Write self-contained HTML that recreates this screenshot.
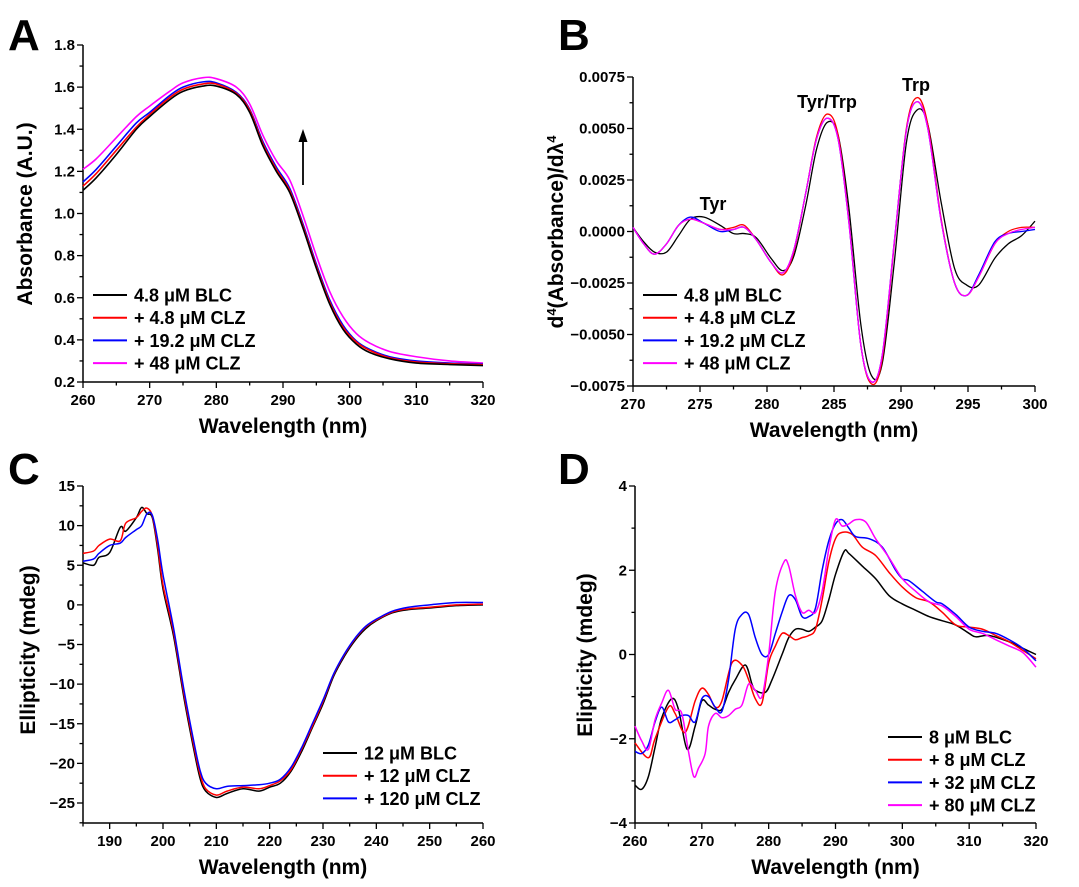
<!DOCTYPE html>
<html><head><meta charset="utf-8">
<style>
body{margin:0;background:#fff;}
svg{display:block;font-family:"Liberation Sans",Arial,sans-serif;font-weight:bold;}
</style></head>
<body>
<svg id="fig" width="1079" height="887" viewBox="0 0 1079 887" xmlns="http://www.w3.org/2000/svg"></svg>
<script>
// ---------- Panel A data ----------
const aX = [260,262,265,268,270,273,275,278,280,283,285,287,289,291,293,295,297,299,301,303,306,310,315,320];
const aBlack = [1.11,1.17,1.28,1.40,1.46,1.54,1.58,1.605,1.605,1.565,1.48,1.32,1.20,1.10,0.93,0.74,0.57,0.45,0.38,0.34,0.31,0.29,0.283,0.278];
const aRed   = [1.13,1.19,1.30,1.41,1.47,1.55,1.59,1.615,1.615,1.57,1.49,1.33,1.21,1.11,0.94,0.75,0.58,0.46,0.39,0.35,0.315,0.295,0.287,0.282];
const aBlue  = [1.15,1.21,1.32,1.43,1.48,1.56,1.60,1.625,1.62,1.575,1.495,1.34,1.22,1.12,0.95,0.76,0.59,0.47,0.395,0.355,0.32,0.30,0.29,0.285];
const aMag   = [1.21,1.26,1.36,1.46,1.51,1.58,1.62,1.645,1.64,1.60,1.52,1.37,1.25,1.16,0.99,0.80,0.63,0.51,0.43,0.385,0.345,0.32,0.30,0.29];
// ---------- Panel B data ----------
const bX = [270,270.8,271.6,272.5,273.4,274.3,275.3,276.5,277.5,278.3,279.2,280.3,281.2,282,282.9,283.7,284.5,285.3,286.1,287,287.8,288.6,289.5,290.4,291.2,292,293,294,294.9,295.8,297,298,299,300];
const bBlack = [0.0002,-0.0005,-0.0010,-0.0010,-0.0002,0.0006,0.0007,0.0003,-0.0001,-0.0001,-0.0003,-0.0013,-0.0019,-0.0012,0.0013,0.0040,0.0053,0.0047,0.0012,-0.0045,-0.0070,-0.0064,-0.0015,0.0043,0.0059,0.0052,0.0014,-0.0018,-0.0026,-0.0026,-0.0013,-0.0006,-0.0002,0.0005];
const bRed   = [0.0002,-0.0006,-0.0011,-0.0006,0.0003,0.0006,0.0004,0.0001,0.0002,0.0003,-0.0004,-0.0015,-0.0021,-0.0010,0.0019,0.0046,0.0057,0.0047,0.0006,-0.0055,-0.0074,-0.0062,-0.0006,0.0050,0.0065,0.0052,0.0006,-0.0025,-0.0031,-0.0022,-0.0006,0.0000,0.0002,0.0002];
const bBlue  = [0.0002,-0.0006,-0.0011,-0.0006,0.0003,0.0007,0.0004,0.0000,0.0001,0.0002,-0.0004,-0.0015,-0.0020,-0.0009,0.0019,0.0045,0.0055,0.0045,0.0005,-0.0055,-0.0073,-0.0060,-0.0005,0.0049,0.0063,0.0050,0.0005,-0.0025,-0.0031,-0.0021,-0.0005,-0.0001,0.0000,0.0001];
const bMag   = [0.0002,-0.0006,-0.0011,-0.0006,0.0003,0.0006,0.0004,0.0001,0.0001,0.0002,-0.0004,-0.0015,-0.0020,-0.0009,0.0019,0.0045,0.0055,0.0045,0.0005,-0.0055,-0.0073,-0.0060,-0.0005,0.0049,0.0063,0.0050,0.0005,-0.0025,-0.0031,-0.0022,-0.0006,-0.0001,0.0001,0.0002];
// ---------- Panel C data ----------
const cX = [185,187,188,190,192,193,195,196,197,198,199,200,202,204,206,207,208,210,212,215,218,220,222,224,226,228,230,232,234,236,238,240,243,246,250,255,260];
const cBlack = [5.3,5.0,6.0,6.6,9.8,9.3,11,12.3,11.5,11,7,2,-4,-12,-19,-22,-23.5,-24.3,-23.8,-23.2,-23.5,-23,-22.5,-21,-18.5,-15.5,-12.5,-9,-6.5,-4.5,-3,-2,-1,-0.6,-0.4,-0.1,0];
const cRed   = [6.5,6.8,7.5,8.3,8.1,10.3,11,11.8,12.2,11.2,7.5,2.5,-3.5,-11.5,-18.5,-21.5,-23.2,-24,-23.5,-23,-23.2,-22.8,-22.2,-20.8,-18.2,-15.3,-12.2,-8.8,-6.3,-4.3,-2.8,-1.9,-0.9,-0.5,-0.3,0,0.1];
const cBlue  = [5.5,5.8,6.5,7.5,7.8,8.5,9.5,10,11.5,11.3,8.2,3.8,-3,-11,-18,-21,-22.5,-23.2,-22.9,-22.8,-22.7,-22.5,-22,-20.5,-18,-15,-12,-8.7,-6.2,-4.2,-2.7,-1.8,-0.8,-0.3,0,0.3,0.3];
// ---------- Panel D data ----------
const dXk = [260,261,262,263,264,265.5,266.5,267.8,269,270,271,272,273,274,275,276.5,277.5,278,279.5,280.5,282,283,284,285,286,287,288,289,290,291.3,292,294,296,298,300,302,304,306,308,310,311,313,316,318,320];
const dBlack = [-3.1,-3.2,-2.9,-2.2,-1.5,-1.05,-1.3,-2.25,-1.7,-1.1,-1.2,-1.3,-1.3,-0.9,-0.6,-0.25,-0.7,-0.85,-0.9,-0.6,0.0,0.4,0.6,0.6,0.55,0.65,0.8,1.3,1.9,2.45,2.4,2.1,1.8,1.4,1.2,1.05,0.9,0.8,0.7,0.5,0.42,0.45,0.3,0.15,0.0];
const dXr = [260,262,263,265,266,267.5,269,270,271,272,273,274.5,276,277,278,279,280,281,282,283,284,285,286,287,288,289,290,291,292.5,294,296,298,300,302,304,306,308,310,312,314,316,318,320];
const dRed = [-2.1,-2.45,-2.0,-1.25,-1.4,-1.85,-1.1,-0.8,-0.95,-1.25,-1.1,-0.2,-0.25,-0.6,-1.05,-1.15,-0.2,0.2,0.5,0.45,0.35,0.4,0.45,0.6,1.3,2.2,2.75,2.9,2.85,2.55,2.35,1.95,1.6,1.35,1.25,1.0,0.7,0.65,0.6,0.45,0.3,0.1,-0.1];
const dXb = [260,261,262,263,264,265,266,267,268,269,270,271,272,273,274,275,276,277,278,279,280,281,282,283,284,285,286,287,288,289,290,291,292,293,295,297,299,300,301,303,305,306,308,310,312,314,316,318,320];
const dBlue = [-2.3,-2.35,-2.15,-1.6,-1.25,-1.6,-1.55,-1.45,-1.45,-1.6,-1.05,-1.0,-1.25,-1.35,-0.6,0.6,0.95,0.95,0.4,0.0,0.0,0.5,1.0,1.4,1.3,0.9,0.9,1.1,2.0,2.7,3.1,3.2,3.0,2.8,2.75,2.55,2.0,1.8,1.75,1.5,1.25,1.2,0.95,0.65,0.55,0.5,0.35,0.15,-0.15];
const dXm = [260,261,262,263,264,265,266,267,268,268.8,269.5,270.5,271,272,273,274,275,276,277,278,279,280,281,282.3,283,284,285,286,287,288,289,290,291,292,293,294.5,296,298,300,302,304,306,308,310,312,314,316,318,320];
const dMag = [-1.7,-2.05,-2.25,-1.55,-1.15,-0.85,-1.3,-1.4,-2.3,-2.9,-2.7,-2.35,-1.7,-1.4,-1.5,-1.45,-1.3,-1.2,-0.7,-0.85,-1.0,0.0,1.5,2.2,2.1,1.4,1.0,1.05,1.0,1.5,2.5,3.2,3.05,3.1,3.2,3.15,2.75,2.3,1.8,1.5,1.25,1.15,0.9,0.6,0.5,0.35,0.2,0.05,-0.3];

const NS="http://www.w3.org/2000/svg";
const svg=document.getElementById('fig');
function mk(tag,attrs,parent){const e=document.createElementNS(NS,tag);for(const k in attrs)e.setAttribute(k,attrs[k]);(parent||svg).appendChild(e);return e;}
function scale(d0,d1,r0,r1){return v=>r0+(v-d0)*(r1-r0)/(d1-d0);}
function smoothPath(xs,ys,sx,sy){
  const p=xs.map((x,i)=>[sx(x),sy(ys[i])]);
  let d='M'+p[0][0].toFixed(2)+','+p[0][1].toFixed(2);
  for(let i=0;i<p.length-1;i++){
    const p0=p[i-1]||p[i],p1=p[i],p2=p[i+1],p3=p[i+2]||p2;
    const c1=[p1[0]+(p2[0]-p0[0])/6,p1[1]+(p2[1]-p0[1])/6];
    const c2=[p2[0]-(p3[0]-p1[0])/6,p2[1]-(p3[1]-p1[1])/6];
    d+='C'+c1[0].toFixed(2)+','+c1[1].toFixed(2)+' '+c2[0].toFixed(2)+','+c2[1].toFixed(2)+' '+p2[0].toFixed(2)+','+p2[1].toFixed(2);
  }
  return d;
}
function axes(g,o){
  const sx=scale(o.x0,o.x1,o.L,o.R), sy=scale(o.y0,o.y1,o.B,o.T);
  const AB=o.axB||o.B;
  const ax=mk('g',{},g);
  
  
  mk('line',{x1:o.L,y1:o.T,x2:o.L,y2:AB,stroke:'#000','stroke-width':1.5},ax);
  mk('line',{x1:o.L,y1:AB,x2:o.R,y2:AB,stroke:'#000','stroke-width':1.5},ax);
  for(let v=o.xm0;v<=o.x1+1e-9;v+=o.xminor){
    const major=Math.abs(((v-o.xt0)/o.xmajor)-Math.round((v-o.xt0)/o.xmajor))<1e-6;
    mk('line',{x1:sx(v),y1:AB,x2:sx(v),y2:AB+(major?6:3.5),stroke:'#000','stroke-width':1.3},ax);
    if(major){const t=mk('text',{x:sx(v),y:AB+23,'text-anchor':'middle','font-size':15},ax);t.textContent=o.xfmt(v);
      
      }
  }
  const n=Math.round((o.y1-o.ym0)/o.yminor);
  for(let i=0;i<=n;i++){const v=o.ym0+i*o.yminor;
    if(sy(v)>AB+0.5)continue;
    const major=Math.abs(((v-o.yt0)/o.ymajor)-Math.round((v-o.yt0)/o.ymajor))<1e-6;
    mk('line',{x1:o.L,y1:sy(v),x2:o.L-(major?6:3.5),y2:sy(v),stroke:'#000','stroke-width':1.3},ax);
    if(major){const t=mk('text',{x:o.L-8,y:sy(v)+5,'text-anchor':'end','font-size':15},ax);t.textContent=o.yfmt(v);
      
      }
  }
  const xt=mk('text',{x:(o.L+o.R)/2,y:AB+51,'text-anchor':'middle','font-size':21},g);
  xt.textContent='Wavelength (nm)';
  
  
  return [sx,sy];
}
function series(g,xs,ys,sx,sy,color,name,w){
  const p=mk('path',{d:smoothPath(xs,ys,sx,sy),fill:'none',stroke:color,'stroke-width':w||1.6,'stroke-linejoin':'round'},g);
  
  
}
function legend(g,x,y0,dy,items){
  const lg=mk('g',{},g);
  
  
  items.forEach((it,i)=>{
    const y=y0+i*dy;
    const e=mk('g',{},lg);
    
    
    mk('line',{x1:x,y1:y,x2:x+34,y2:y,stroke:it[1],'stroke-width':2},e);
    const t=mk('text',{x:x+41,y:y+6.5,'font-size':18},e);t.textContent=it[0];
  });
}
function panelLabel(txt,x,y,name){const t=mk('text',{x:x,y:y,'font-size':44},svg);t.textContent=txt;
  
  }
function ytitle(g,x,y,txt){const t=mk('text',{x:x,y:y,'text-anchor':'middle','font-size':21,transform:`rotate(-90 ${x} ${y})`},g);t.textContent=txt;
  
  return t;}

// ===== Panel A =====
{
const g=mk('g',{});


panelLabel('A',8,50,'panel-label-a');
const [sx,sy]=axes(g,{x0:260,x1:320,L:83,R:483,y0:0.2,y1:1.8,B:382,T:45,xm0:260,xt0:260,xminor:5,xmajor:10,ym0:0.2,yt0:0.2,yminor:0.1,ymajor:0.2,xfmt:v=>Math.round(v),yfmt:v=>v.toFixed(1)});
ytitle(g,32,214,'Absorbance (A.U.)');
series(g,aX,aMag,sx,sy,'#ff00ff','series-48uM-clz');
series(g,aX,aBlue,sx,sy,'#0000ff','series-19-2uM-clz');
series(g,aX,aRed,sx,sy,'#ff0000','series-4-8uM-clz');
series(g,aX,aBlack,sx,sy,'#000000','series-4-8uM-blc');
const ar=mk('g',{},g);


mk('line',{x1:303,y1:185,x2:303,y2:138,stroke:'#000','stroke-width':1.8},ar);
mk('polygon',{points:'303,129 298.5,142 307.5,142',fill:'#000'},ar);
legend(g,93,295,22.7,[['4.8 μM BLC','#000'],['+ 4.8 μM CLZ','#ff0000'],['+ 19.2 μM CLZ','#0000ff'],['+ 48 μM CLZ','#ff00ff']]);
}
// ===== Panel B =====
{
const g=mk('g',{});


panelLabel('B',558,50,'panel-label-b');
const [sx,sy]=axes(g,{x0:270,x1:300,L:633,R:1035,y0:-0.0075,y1:0.0075,B:386,T:77,xm0:270,xt0:270,xminor:2.5,xmajor:5,ym0:-0.0075,yt0:-0.0075,yminor:0.00125,ymajor:0.0025,xfmt:v=>Math.round(v),yfmt:v=>(v<-1e-9?'\u22120':'0')+Math.abs(v).toFixed(4).slice(1)});
const t=ytitle(g,563,232,'');
t.innerHTML='d<tspan baseline-shift="super" font-size="13">4</tspan>(Absorbance)/dλ<tspan baseline-shift="super" font-size="13">4</tspan>';
series(g,bX,bBlack,sx,sy,'#000000','series-4-8uM-blc',1.3);
series(g,bX,bRed,sx,sy,'#ff0000','series-4-8uM-clz',1.3);
series(g,bX,bBlue,sx,sy,'#0000ff','series-19-2uM-clz',1.3);
series(g,bX,bMag,sx,sy,'#ff00ff','series-48uM-clz',1.3);
[['Tyr',713,210],['Tyr/Trp',827,108],['Trp',916,91]].forEach(a=>{const e=mk('text',{x:a[1],y:a[2],'text-anchor':'middle','font-size':18},g);e.textContent=a[0];
  
  });
legend(g,643,295,22.7,[['4.8 μM BLC','#000'],['+ 4.8 μM CLZ','#ff0000'],['+ 19.2 μM CLZ','#0000ff'],['+ 48 μM CLZ','#ff00ff']]);
}
// ===== Panel C =====
{
const g=mk('g',{});


panelLabel('C',8,484,'panel-label-c');
const [sx,sy]=axes(g,{x0:185,x1:260,L:83,R:483,y0:-25,y1:15,B:803,axB:823,T:486,xm0:185,xt0:190,xminor:5,xmajor:10,ym0:-27.5,yt0:-25,yminor:2.5,ymajor:5,xfmt:v=>Math.round(v),yfmt:v=>v<0?'\u2212'+Math.abs(v):String(v)});
ytitle(g,35,650,'Ellipticity (mdeg)');
series(g,cX,cBlack,sx,sy,'#000000','series-12uM-blc',1.5);
series(g,cX,cRed,sx,sy,'#ff0000','series-12uM-clz',1.5);
series(g,cX,cBlue,sx,sy,'#0000ff','series-120uM-clz',1.5);
legend(g,323,753,22.7,[['12 μM BLC','#000'],['+ 12 μM CLZ','#ff0000'],['+ 120 μM CLZ','#0000ff']]);
}
// ===== Panel D =====
{
const g=mk('g',{});


panelLabel('D',558,484,'panel-label-d');
const [sx,sy]=axes(g,{x0:260,x1:320,L:635,R:1036,y0:-4,y1:4,B:823,T:486,xm0:260,xt0:260,xminor:5,xmajor:10,ym0:-4,yt0:-4,yminor:1,ymajor:2,xfmt:v=>Math.round(v),yfmt:v=>v<0?'\u2212'+Math.abs(v):String(v)});
ytitle(g,592,655,'Elipticity (mdeg)');
series(g,dXk,dBlack,sx,sy,'#000000','series-8uM-blc',1.5);
series(g,dXr,dRed,sx,sy,'#ff0000','series-8uM-clz',1.5);
series(g,dXb,dBlue,sx,sy,'#0000ff','series-32uM-clz',1.5);
series(g,dXm,dMag,sx,sy,'#ff00ff','series-80uM-clz',1.5);
legend(g,888,737,22.7,[['8 μM BLC','#000'],['+ 8 μM CLZ','#ff0000'],['+ 32 μM CLZ','#0000ff'],['+ 80 μM CLZ','#ff00ff']]);
}
</script>
</body></html>
